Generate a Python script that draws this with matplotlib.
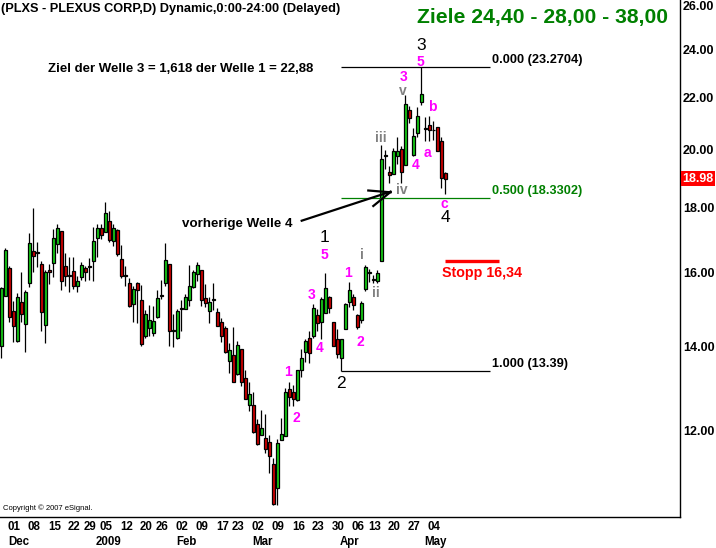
import matplotlib
matplotlib.use('Agg')
import matplotlib.pyplot as plt
from matplotlib import font_manager
from matplotlib.lines import Line2D
from matplotlib.ticker import NullLocator
import matplotlib.transforms as mtrans

# ---------------- data (daily OHLC, 26 Nov 2008 .. 08 May 2009) ----------------
opens = [14.01, 15.33, 16.14, 14.93, 14.13, 15.17, 14.57, 15.71, 16.63, 16.58,
         16.26, 14.54, 16.07, 16.27, 16.86, 17.26, 16.19, 15.92, 16.05, 15.61,
         15.88, 16.15, 16.19, 16.33, 17.05, 17.34, 17.22, 17.58, 16.94, 17.29,
         16.41, 15.91, 15.69, 15.12, 15.71, 15.23, 14.25, 14.46, 14.34, 14.75,
         15.33, 15.70, 16.26, 14.38, 14.22, 15.00, 14.99, 15.22, 15.59, 15.95,
         16.09, 15.29, 14.93, 15.23, 14.90, 14.63, 14.46, 13.63, 13.77, 13.30,
         13.93, 13.20, 12.57, 12.57, 12.14, 11.90, 11.85, 11.75, 11.30, 10.81,
         11.81, 11.89, 12.94, 12.87, 12.70, 13.40, 13.85, 14.21, 14.25, 14.82,
         14.64, 14.88, 15.31, 14.64, 14.17, 13.70, 14.44, 15.17, 15.31, 14.82,
         14.67, 15.53, 16.00, 15.82, 15.76, 16.34, 19.78, 19.21, 19.15, 19.79,
         20.05, 19.46, 21.52, 19.83, 20.63, 21.84, 20.79, 20.92, 20.73, 20.85,
         20.31, 19.17]
highs = [15.58, 16.72, 16.19, 15.19, 15.42, 16.01, 15.49, 17.20, 17.99, 16.91,
         16.34, 16.08, 16.24, 17.32, 17.47, 17.26, 16.57, 16.45, 16.45, 15.89,
         16.31, 16.19, 16.42, 17.40, 17.47, 17.47, 18.21, 17.89, 17.47, 17.32,
         16.83, 16.19, 15.85, 15.62, 15.73, 15.64, 14.94, 15.08, 15.05, 15.51,
         15.80, 16.89, 16.26, 14.85, 14.99, 15.23, 15.40, 16.21, 16.08, 16.31,
         16.09, 15.67, 15.31, 15.71, 15.01, 14.74, 14.52, 14.07, 14.49, 14.13,
         13.93, 13.41, 13.11, 12.89, 12.26, 12.47, 12.38, 11.90, 11.42, 11.82,
         12.28, 12.97, 13.12, 13.04, 13.40, 13.93, 14.17, 14.40, 15.10, 14.99,
         15.31, 15.99, 15.33, 14.64, 14.44, 14.19, 15.13, 15.73, 15.40, 14.85,
         15.20, 16.21, 16.12, 15.94, 16.08, 20.19, 20.00, 19.42, 20.08, 20.48,
         20.13, 22.11, 21.65, 20.80, 21.61, 23.27, 21.25, 21.29, 21.08, 20.87,
         20.46, 19.20]
lows = [13.71, 15.33, 14.63, 14.10, 14.10, 14.63, 13.85, 15.58, 16.03, 16.17,
        14.40, 14.08, 15.67, 15.88, 16.58, 15.51, 15.62, 15.46, 15.53, 15.44,
        15.79, 15.76, 15.78, 15.76, 16.46, 17.01, 17.22, 16.93, 16.80, 16.48,
        15.85, 15.62, 15.02, 14.64, 14.61, 14.01, 14.22, 14.26, 14.25, 14.74,
        15.26, 15.62, 13.99, 13.97, 14.19, 14.40, 14.97, 15.06, 15.57, 15.76,
        15.05, 15.03, 14.59, 14.94, 14.51, 14.10, 13.82, 13.34, 13.12, 13.29,
        13.03, 12.71, 12.43, 11.95, 11.69, 11.90, 11.52, 11.12, 10.48, 10.48,
        11.81, 11.89, 12.56, 12.55, 12.68, 13.24, 13.61, 13.58, 14.22, 14.40,
        14.19, 14.88, 14.88, 13.99, 13.71, 13.39, 14.44, 15.03, 14.94, 14.45,
        14.60, 15.48, 15.73, 15.70, 15.70, 16.34, 19.33, 18.85, 19.15, 19.50,
        18.85, 19.46, 21.02, 19.77, 20.46, 21.72, 20.31, 20.31, 20.38, 19.97,
        18.68, 18.45]
closes = [15.55, 16.68, 14.76, 14.52, 15.31, 14.84, 15.44, 16.88, 16.48, 16.60,
          14.90, 16.01, 16.02, 17.03, 17.34, 15.76, 15.89, 15.90, 15.62, 15.77,
          16.23, 16.03, 16.16, 16.95, 17.35, 17.13, 17.84, 16.98, 17.34, 16.54,
          15.89, 15.93, 15.05, 15.53, 15.51, 14.06, 14.85, 14.68, 14.65, 15.28,
          15.37, 16.36, 14.38, 14.42, 14.93, 14.98, 15.31, 15.63, 16.01, 16.23,
          15.23, 15.14, 15.17, 15.25, 14.53, 14.26, 13.84, 13.90, 13.12, 14.03,
          13.12, 12.71, 12.83, 11.97, 11.72, 12.06, 11.61, 11.46, 10.51, 11.74,
          11.93, 12.89, 12.76, 12.72, 13.40, 13.71, 14.12, 13.82, 15.01, 14.60,
          15.26, 15.55, 15.01, 14.00, 13.81, 14.19, 15.10, 15.49, 15.08, 14.49,
          15.15, 16.17, 16.03, 15.80, 15.99, 19.66, 19.82, 19.11, 19.97, 19.97,
          19.22, 21.76, 21.21, 20.50, 21.27, 22.14, 20.80, 20.74, 20.74, 19.97,
          19.02, 18.98]

day_tick_idx = [2, 7, 12, 17, 21, 25, 30, 35, 39, 44, 49, 54, 58, 63, 68, 73, 78,
                83, 88, 92, 97, 102, 107]
day_tick_labels = ['01', '08', '15', '22', '29', '05', '12', '20', '26', '02', '09',
                   '17', '23', '02', '09', '16', '23', '30', '06', '13', '20', '27', '04']
month_idx = [2, 24, 44, 63, 85, 106]
month_labels = ['Dec', '2009', 'Feb', 'Mar', 'Apr', 'May']
price_ticks = [12, 14, 16, 18, 20, 22, 24, 26]
last_price = 18.98
fib_levels = [23.2704, 18.3302, 13.39]
fib_names = ['0.000 (23.2704)', '0.500 (18.3302)', '1.000 (13.39)']
stop_price = 16.34

# ---------------- figure ----------------
W, H = 716, 548
plt.rcParams['font.family'] = ['Liberation Sans', 'DejaVu Sans']
names = {f.name for f in font_manager.fontManager.ttflist}
narrow = 'Liberation Sans Narrow' if 'Liberation Sans Narrow' in names else 'Liberation Sans'
tick_fs = 9.5 if narrow == 'Liberation Sans Narrow' else 8.3

fig = plt.figure(figsize=(W / 100, H / 100), dpi=100, facecolor='white')
ax = fig.add_axes([0, 31 / H, 680 / W, 517 / H])
ax.set_facecolor('white')

GREEN = '#16CC16'
RED = '#D00000'
x = list(range(len(opens)))
ax.vlines(x, lows, highs, color='black', lw=0.9, zorder=2)
bottoms = [min(o, c) for o, c in zip(opens, closes)]
heights = [abs(c - o) for o, c in zip(opens, closes)]
cols = [GREEN if c >= o else RED for o, c in zip(opens, closes)]
ax.bar(x, heights, bottom=bottoms, width=0.75, color=cols, edgecolor='black',
       linewidth=0.9, zorder=3)

ax.set_yscale('log')
ax.set_xlim(-0.325, 169.675)
ax.set_ylim(10.26, 26.27)

ax.yaxis.tick_right()
ax.set_yticks(price_ticks)
ax.set_yticklabels([f'{p:.2f}' for p in price_ticks])
ax.yaxis.set_minor_locator(NullLocator())
ax.tick_params(axis='y', length=0, pad=2, labelsize=9)
for lbl in ax.get_yticklabels():
    lbl.set_fontweight('bold')

ax.xaxis.remove_overlapping_locs = False
ax.set_xticks(day_tick_idx)
ax.set_xticklabels(day_tick_labels)
ax.set_xticks(month_idx, minor=True)
ax.set_xticklabels(month_labels, minor=True)
ax.tick_params(axis='x', which='major', length=0, pad=3)
ax.tick_params(axis='x', which='minor', length=0, pad=14)
off = mtrans.ScaledTranslation(-1.5 / 100, 0, fig.dpi_scale_trans)
for lbl in ax.get_xticklabels() + ax.get_xticklabels(minor=True):
    lbl.set_ha('left')
    lbl.set_fontweight('bold')
    lbl.set_fontfamily(narrow)
    lbl.set_fontsize(tick_fs)
    lbl.set_transform(lbl.get_transform() + off)

for s in ['top', 'left']:
    ax.spines[s].set_visible(False)
for s in ['right', 'bottom']:
    ax.spines[s].set_color('black')
    ax.spines[s].set_linewidth(1.0)

# last price marker
ax.text(1.004, last_price, f'{last_price:.2f}', transform=ax.get_yaxis_transform(),
        ha='left', va='center', color='white', fontsize=9, fontweight='bold',
        bbox=dict(boxstyle='square,pad=0.12', fc='#FF0000', ec='none'), clip_on=False)

# fibonacci lines
fib_colors = ['black', '#008000', 'black']
for lev, name, col in zip(fib_levels, fib_names, fib_colors):
    ax.hlines(lev, 85, 122.2, color=col, lw=0.9, zorder=4)
    ax.annotate(name, (122.3, lev), xytext=(1, 7), textcoords='offset pixels',
                ha='left', va='center', color=col, fontsize=9.2, fontweight='bold')

# stop line
ax.hlines(stop_price, 110.9, 124.4, color='#FF0000', lw=2.4, zorder=4)


def T(px, py, s, **kw):
    fig.text(px / W, 1 - py / H, s, **kw)


T(1, 9, '(PLXS - PLEXUS CORP,D) Dynamic,0:00-24:00 (Delayed)', ha='left', va='center',
  fontsize=9.2, fontweight='bold')
T(542.5, 17, 'Ziele 24,40 - 28,00 - 38,00', ha='center', va='center', fontsize=15.2,
  fontweight='bold', color='#008000')
T(48, 69, 'Ziel der Welle 3 = 1,618 der Welle 1 = 22,88', ha='left', va='center',
  fontsize=9.5, fontweight='bold')
T(442, 273, 'Stopp 16,34', ha='left', va='center', fontsize=10.3, fontweight='bold',
  color='#FF0000')
T(181.7, 224, 'vorherige Welle 4', ha='left', va='center', fontsize=9.6,
  fontweight='bold')
T(3, 508, 'Copyright \u00a9 2007 eSignal.', ha='left', va='center', fontsize=5.5)

pink = [('1', 288.3, 371.7), ('2', 296, 418.3), ('3', 311.7, 295), ('4', 320, 348.3),
        ('5', 324, 255), ('1', 348.3, 272.7), ('2', 360, 341.7), ('3', 404, 77),
        ('4', 415.7, 165), ('5', 420, 61.7), ('a', 427.7, 153.3), ('b', 432, 106.7),
        ('c', 444, 204)]
for s, px, py in pink:
    T(px, py, s, ha='center', va='center', fontsize=10, fontweight='bold', color='#FF00FF')

gray = [('i', 361.7, 255), ('ii', 376, 293), ('iii', 380.7, 138), ('iv', 401.7, 190),
        ('v', 403.3, 91)]
for s, px, py in gray:
    T(px, py, s, ha='center', va='center', fontsize=10, fontweight='bold', color='#808080')

black = [('1', 324.3, 238), ('2', 340.7, 383), ('3', 421, 45), ('4', 445, 218)]
for s, px, py in black:
    T(px, py, s, ha='center', va='center', fontsize=12.5, color='black')

# arrow to previous wave 4
for (x1, y1), (x2, y2) in [((301.7, 220.7), (390.5, 191.7)),
                           ((368.3, 190.5), (390.5, 192.3)),
                           ((373.3, 206.0), (390.5, 192.0))]:
    fig.add_artist(Line2D([x1 / W, x2 / W], [1 - y1 / H, 1 - y2 / H],
                          transform=fig.transFigure, color='black', lw=1.6))

fig.savefig('out.png', dpi=100, facecolor='white')
